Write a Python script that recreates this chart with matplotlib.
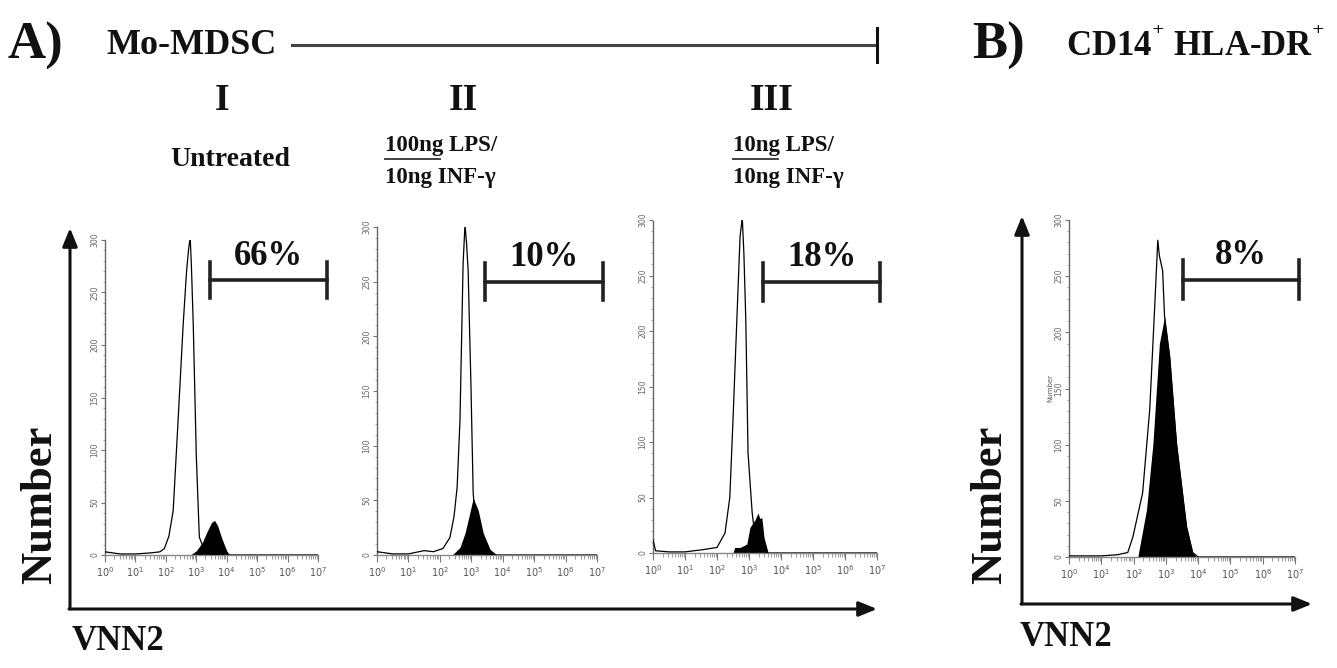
import numpy as np
import matplotlib
matplotlib.use("Agg")
import matplotlib.pyplot as plt

W, H = 1337, 668

# ---- data (log10 fluorescence, cell count) ----
# panel I: untreated
p1_open_x = [0.0, 0.5, 1.0, 1.5, 1.8, 1.95, 2.1, 2.24, 2.4, 2.57, 2.68, 2.75, 2.8, 2.84, 2.9, 3.0, 3.1, 3.3, 3.6, 7.0]
p1_open_y = [3, 1, 1, 2, 3, 6, 18, 42, 127, 220, 270, 292, 302, 275, 220, 95, 17, 2, 0, 0]
p1_fill_x = [2.8, 3.0, 3.2, 3.35, 3.5, 3.6, 3.7, 3.85, 4.0, 4.1]
p1_fill_y = [0, 4, 12, 22, 31, 33, 28, 15, 4, 0]

# panel II: 100ng LPS / 10ng INF-g
p2_open_x = [0.0, 0.5, 1.0, 1.5, 1.8, 2.1, 2.32, 2.45, 2.55, 2.64, 2.74, 2.8, 2.85, 2.9, 2.99, 3.06, 3.15, 3.3, 3.5, 7.0]
p2_open_y = [3, 1, 1, 4, 3, 6, 16, 35, 62, 123, 267, 302, 285, 260, 154, 57, 25, 6, 0, 0]
p2_fill_x = [2.39, 2.5, 2.64, 2.8, 2.9, 3.06, 3.22, 3.38, 3.6, 3.82]
p2_fill_y = [0, 3, 7, 20, 32, 52, 41, 20, 5, 0]

# panel III: 10ng LPS / 10ng INF-g
p3_open_x = [0.0, 0.08, 0.5, 1.0, 1.56, 2.0, 2.25, 2.4, 2.5, 2.62, 2.72, 2.79, 2.84, 2.9, 2.97, 3.1, 3.2, 3.35, 3.6, 7.0]
p3_open_y = [12, 2, 1, 1, 3, 5, 18, 50, 120, 210, 285, 302, 270, 210, 90, 36, 12, 4, 0, 0]
p3_fill_x = [2.5, 2.55, 2.72, 2.93, 3.03, 3.12, 3.19, 3.28, 3.34, 3.4, 3.47, 3.6]
p3_fill_y = [0, 5, 5, 8, 23, 27, 30, 36, 31, 32, 14, 0]

# panel B: CD14+ HLA-DR+
pb_open_x = [0.0, 1.0, 1.5, 1.82, 1.98, 2.28, 2.5, 2.65, 2.75, 2.8, 2.9, 2.96, 3.12, 3.33, 3.64, 3.83, 4.0, 7.0]
pb_open_y = [1, 1, 2, 4, 18, 57, 131, 220, 282, 268, 255, 214, 178, 101, 27, 4, 0, 0]
pb_fill_x = [2.13, 2.4, 2.6, 2.7, 2.8, 2.96, 3.12, 3.33, 3.64, 3.83, 3.95]
pb_fill_y = [0, 42, 101, 146, 190, 214, 178, 101, 27, 4, 0]

percents = ["66%", "10%", "18%", "8%"]
gate_lo = [3.45, 3.44, 3.44, 3.52]
gate_hi = [7.3, 7.2, 7.1, 7.13]
gate_y = [262, 250, 244, 247]

decades = list(range(8))
count_ticks = [0, 50, 100, 150, 200, 250, 300]

serif = "Liberation Serif"

fig = plt.figure(figsize=(W / 100, H / 100), dpi=100)

# overlay in pixel coords for the hand-drawn labels/arrows
ov = fig.add_axes([0, 0, 1, 1])
ov.set_xlim(0, W)
ov.set_ylim(H, 0)
ov.axis("off")


def px_rect(x0, ytop, x1, ybot):
    return [x0 / W, 1 - ybot / H, (x1 - x0) / W, (ybot - ytop) / H]


def hist_panel(rect, ox, oy, fx, fy, pct, lo, hi, gy, ylab=False):
    ax = fig.add_axes(px_rect(*rect))
    ax.set_xlim(0, 7)
    ax.set_ylim(0, 300)
    ax.fill_between(fx, fy, 0, color="black", lw=0, zorder=2)
    ax.plot(ox, oy, color="black", lw=0.9, zorder=3)
    for s in ["top", "right"]:
        ax.spines[s].set_visible(False)
    ax.spines["left"].set_linestyle((0, (1, 1)))
    ax.spines["left"].set_color("#666666")
    ax.spines["bottom"].set_color("#888888")
    ax.spines["left"].set_linewidth(1.0)
    ax.spines["bottom"].set_linewidth(1.0)
    ax.set_xticks(decades)
    ax.set_xticklabels([r"$10^{%d}$" % d for d in decades])
    minor = [d + np.log10(m) for d in range(7) for m in range(2, 10)]
    ax.set_xticks(minor, minor=True)
    ax.set_yticks(count_ticks)
    ax.set_yticklabels([str(c) for c in count_ticks], rotation=90, va="center")
    ax.set_yticks(range(0, 301, 10), minor=True)
    ax.tick_params(axis="x", which="major", labelsize=7, colors="#777777", length=5, width=0.8, pad=2, labelcolor="#555555")
    ax.tick_params(axis="x", which="minor", length=3, width=0.6, colors="#888888")
    ax.tick_params(axis="y", which="major", labelsize=5.5, length=3, width=0.8, pad=1, colors="#777777", labelcolor="#666666")
    ax.tick_params(axis="y", which="minor", length=1.5, width=0.5, colors="#888888")
    ax.patch.set_alpha(0)
    # gate bar
    ax.plot([lo, hi], [gy, gy], color="#222222", lw=2.6, clip_on=False)
    for g in (lo, hi):
        ax.plot([g, g], [gy - 17, gy + 17], color="#222222", lw=2.6, clip_on=False)
    ax.text((lo + hi) / 2, gy + 7, pct, ha="center", va="bottom", fontsize=25,
            fontweight="bold", family=serif, color="#111111", clip_on=False)
    if ylab:
        ax.set_ylabel("Number", fontsize=5, color="#555555", labelpad=1)
    return ax


hist_panel((105, 240, 318, 555), p1_open_x, p1_open_y, p1_fill_x, p1_fill_y,
           percents[0], gate_lo[0], gate_hi[0], gate_y[0])
hist_panel((377, 227, 597, 555), p2_open_x, p2_open_y, p2_fill_x, p2_fill_y,
           percents[1], gate_lo[1], gate_hi[1], gate_y[1])
hist_panel((653, 220, 877, 553), p3_open_x, p3_open_y, p3_fill_x, p3_fill_y,
           percents[2], gate_lo[2], gate_hi[2], gate_y[2])
hist_panel((1069, 220, 1295, 557), pb_open_x, pb_open_y, pb_fill_x, pb_fill_y,
           percents[3], gate_lo[3], gate_hi[3], gate_y[3], ylab=True)

# big axis arrows
arr = dict(arrowstyle="-|>,head_length=1.1,head_width=0.45", lw=2.2, color="#111111",
           shrinkA=0, shrinkB=0)
ov.annotate("", xy=(70, 228), xytext=(70, 609), arrowprops=arr)
ov.annotate("", xy=(877, 609), xytext=(69, 609), arrowprops=arr)
ov.annotate("", xy=(1022, 216), xytext=(1022, 604), arrowprops=arr)
ov.annotate("", xy=(1312, 604), xytext=(1021, 604), arrowprops=arr)

# Mo-MDSC bracket line
ov.plot([292, 877], [45, 45], color="#444444", lw=2.2)
ov.plot([877, 877], [28, 62], color="#111111", lw=2.2)

bold = dict(family=serif, fontweight="bold", color="#111111")
ov.text(8, 46, "A)", fontsize=38, ha="left", va="center", **bold)
ov.text(106, 46, "Mo-MDSC", fontsize=26, ha="left", va="center", **bold)
ov.text(972, 46, "B)", fontsize=38, ha="left", va="center", **bold)
ov.text(1066, 46, "CD14$^{\u207a}$ HLA-DR$^{\u207a}$", fontsize=25, ha="left", va="center", **bold)

ov.text(222, 100, "I", fontsize=27, ha="center", va="center", **bold)
ov.text(463, 100, "II", fontsize=27, ha="center", va="center", **bold)
ov.text(772, 100, "III", fontsize=27, ha="center", va="center", **bold)

ov.text(230, 160, "Untreated", fontsize=20, ha="center", va="center", **bold)
ov.text(385, 145, "100ng LPS/", fontsize=16.5, ha="left", va="center", **bold)
ov.text(385, 177, "10ng INF-\u03b3", fontsize=16.5, ha="left", va="center", **bold)
ov.plot([385, 440], [159, 159], color="#333333", lw=1.3)
ov.text(733, 145, "10ng LPS/", fontsize=16.5, ha="left", va="center", **bold)
ov.text(733, 177, "10ng INF-\u03b3", fontsize=16.5, ha="left", va="center", **bold)
ov.plot([733, 778], [159, 159], color="#333333", lw=1.3)

ov.text(40, 505, "Number", fontsize=32, rotation=90, ha="center", va="center", **bold)
ov.text(990, 505, "Number", fontsize=32, rotation=90, ha="center", va="center", **bold)
ov.text(72, 642, "VNN2", fontsize=25, ha="left", va="center", **bold)
ov.text(1020, 638, "VNN2", fontsize=25, ha="left", va="center", **bold)

fig.savefig("out.png", dpi=100)
